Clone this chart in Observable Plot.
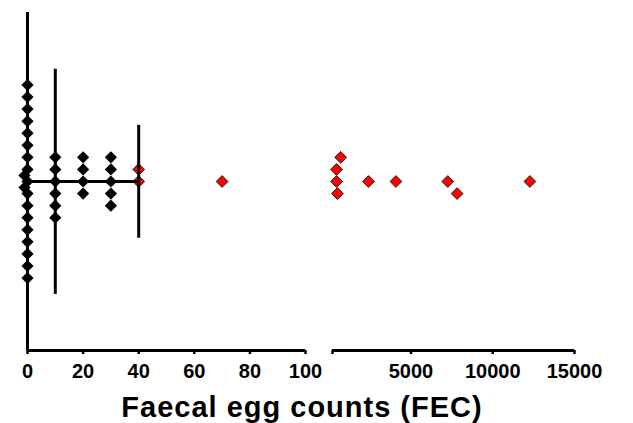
<!DOCTYPE html>
<html><head><meta charset="utf-8">
<script src="https://cdn.jsdelivr.net/npm/d3@7"></script>
<script src="https://cdn.jsdelivr.net/npm/@observablehq/plot@0.6"></script>
<style>
html,body{margin:0;padding:0;background:#fff;}
#chart{position:relative;width:633px;height:423px;font-family:"Liberation Sans",Arial,sans-serif;overflow:hidden;}
#left,#right{position:absolute;top:0;}
#left{left:0;} #right{left:318px;}
#left svg,#right svg{overflow:visible;}
#title{position:absolute;left:0;width:604px;top:393px;text-align:center;font-weight:bold;font-size:29px;line-height:1;letter-spacing:1px;color:#000;}
</style></head><body>
<div id="chart"><div id="left"></div><div id="right"></div><div id="title">Faecal egg counts (FEC)</div></div>
<script>
// ---- data (FEC value, vertical stacking position) ----
const fec0Pos = [8,7,6,5,4,3,2,1,0,-1,-2,-3,-4,-5,-6,-7,-8];
const fec0ExtraPos = [0.5,-0.5];
const fec10Pos = [2,1,0,-1,-2,-3];
const fec20Pos = [2,1,0,-1];
const fec30Pos = [2,1,0,-1,-2];
const redLowFEC = [40,40,70];
const redLowPos = [1,0,0];
const redHighFEC = [700,450,450,500,2400,4080,7250,7820,12270];
const redHighPos = [2,1,0,-1,0,0,0,-1,0];
const barFEC = [10,40];
const barLow = [-9.35,-4.7];
const barHigh = [9.3,4.65];
const hLineFrom = [0];
const hLineTo = [40];
const leftTicks = [0,20,40,60,80,100];
const rightTicks = [200,5000,10000,15000];
const leftDomain = [0,100];
const rightDomain = [200,15000];
const yDomain = [-14,14];

// ---- tables ----
const black = [
  ...fec0Pos.map(p => ({fec:0, pos:p})),
  ...fec10Pos.map(p => ({fec:10, pos:p})),
  ...fec20Pos.map(p => ({fec:20, pos:p})),
  ...fec30Pos.map(p => ({fec:30, pos:p}))
];
const blackExtra = fec0ExtraPos.map(p => ({fec:0, pos:p}));
const redLow = redLowFEC.map((f,i) => ({fec:f, pos:redLowPos[i]}));
const redHigh = redHighFEC.map((f,i) => ({fec:f, pos:redHighPos[i]}));
const bars = barFEC.map((f,i) => ({fec:f, lo:barLow[i], hi:barHigh[i]}));

const font = '"Liberation Sans", Arial, sans-serif';
const common = {
  height: 423, marginTop: 12, marginBottom: 73,
  y: {domain: yDomain, axis: null},
  style: {fontFamily: font, fontSize: "20px", fontWeight: "bold", color: "#000", background: "transparent", overflow: "visible"}
};

const left = Plot.plot({
  ...common,
  width: 320, marginLeft: 27, marginRight: 15,
  x: {domain: leftDomain},
  marks: [
    Plot.axisX({ticks: leftTicks, tickSize: 4, tickPadding: 9, strokeWidth: 2.5, tickFormat: d3.format("d"), label: null, fontSize: 20, fontWeight: "bold"}),
    Plot.dot(black, {x: "fec", y: "pos", symbol: "diamond2", r: 5.5, fill: "#000"}),
    Plot.dot(blackExtra, {x: "fec", y: "pos", symbol: "diamond2", r: 5.5, fill: "#000", dx: -3}),
    Plot.dot(redLow, {x: "fec", y: "pos", symbol: "diamond2", r: 5.3, fill: "#ff0000", stroke: "#222", strokeWidth: 1}),
    Plot.ruleY([yDomain[0]], {x1: leftDomain[0], x2: leftDomain[1], strokeWidth: 3, stroke: "#000"}),
    Plot.ruleX([leftDomain[0]], {y1: yDomain[0], y2: yDomain[1], strokeWidth: 3, stroke: "#000"}),
    Plot.ruleX(bars, {x: "fec", y1: "lo", y2: "hi", strokeWidth: 3, stroke: "#000"}),
    Plot.ruleY([0], {x1: hLineFrom[0], x2: hLineTo[0], strokeWidth: 3, stroke: "#000"})
  ]
});
document.getElementById("left").appendChild(left);

const right = Plot.plot({
  ...common,
  width: 315, marginLeft: 14, marginRight: 59,
  x: {domain: rightDomain},
  marks: [
    Plot.axisX({ticks: rightTicks, tickSize: 4, tickPadding: 9, strokeWidth: 2.5, tickFormat: d => d === rightDomain[0] ? "" : d3.format("d")(d), label: null, fontSize: 20, fontWeight: "bold"}),
    Plot.dot(redHigh, {x: "fec", y: "pos", symbol: "diamond2", r: 5.3, fill: "#ff0000", stroke: "#222", strokeWidth: 1}),
    Plot.ruleY([yDomain[0]], {x1: rightDomain[0], x2: rightDomain[1], strokeWidth: 3, stroke: "#000"})
  ]
});
document.getElementById("right").appendChild(right);
</script>
</body></html>
